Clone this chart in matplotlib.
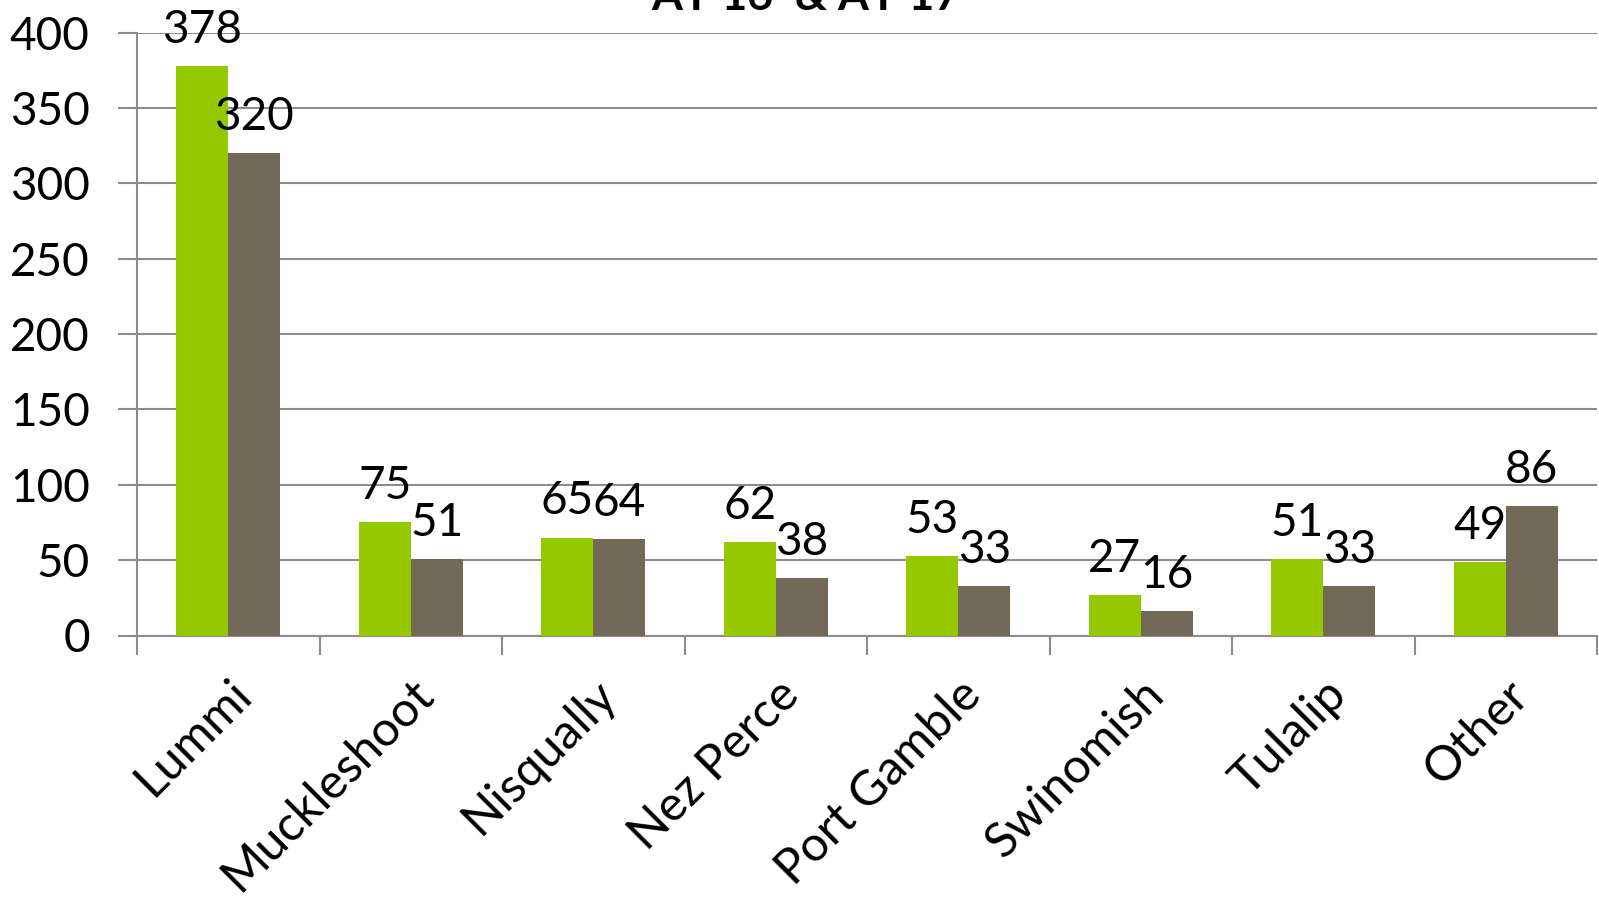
import matplotlib.pyplot as plt
import numpy as np
from matplotlib.transforms import ScaledTranslation

# datos
tribes = ['Lummi', 'Muckleshoot', 'Nisqually', 'Nez Perce', 'Port Gamble',
          'Swinomish', 'Tulalip', 'Other']
ay16 = [378, 75, 65, 62, 53, 27, 51, 49]
ay17 = [320, 51, 64, 38, 33, 16, 33, 86]

plt.rcParams['font.family'] = ['Lato', 'DejaVu Sans']

fig = plt.figure(figsize=(15.99, 9.08), dpi=100)
ax = fig.add_axes([137 / 1599, 1 - 635.5 / 908, (1597 - 137) / 1599, (635.5 - 32.6) / 908])

x = np.arange(len(tribes))
w = 0.285
green = '#96c800'
gray = '#726959'

b1 = ax.bar(x - w / 2, ay16, w, color=green, zorder=3)
b2 = ax.bar(x + w / 2, ay17, w, color=gray, zorder=3)

for bars, vals in [(b1, ay16), (b2, ay17)]:
    for b, v in zip(bars, vals):
        ax.text(b.get_x() + b.get_width() / 2, v + 10, str(v),
                ha='center', va='bottom', fontsize=33, zorder=4)

ax.set_xlim(-0.5, 7.5)
ax.set_ylim(0, 400)
ax.set_yticks(range(0, 401, 50))
ax.grid(axis='y', color='#8c8c8c', linewidth=1.5, zorder=0)

ax.set_xticks(x)
ax.set_xticklabels(tribes, rotation=45, ha='right', rotation_mode='anchor', fontsize=35)
# desplazar un poco las etiquetas a la izquierda
offset = ScaledTranslation(-0.06, 0, fig.dpi_scale_trans)
for lbl in ax.get_xticklabels():
    lbl.set_transform(lbl.get_transform() + offset)
ax.set_xticks(np.arange(-0.5, 8, 1), minor=True)
ax.tick_params(axis='x', which='major', length=0, pad=26)
ax.tick_params(axis='x', which='minor', length=14, width=1.5, color='#8c8c8c')
ax.tick_params(axis='y', length=14, width=1.5, color='#8c8c8c', labelsize=33, pad=20)

for s in ['top', 'right']:
    ax.spines[s].set_visible(False)
for s in ['left', 'bottom']:
    ax.spines[s].set_color('#8c8c8c')
    ax.spines[s].set_linewidth(1.5)

# título (cortado arriba, como en el original)
fig.text(790 * 1.0198 / 1599, 1 - 10 / 908, 'AY 16  & AY 17', ha='center', va='baseline',
         fontsize=32, fontweight='bold')

fig.savefig('out.png', dpi=100)
